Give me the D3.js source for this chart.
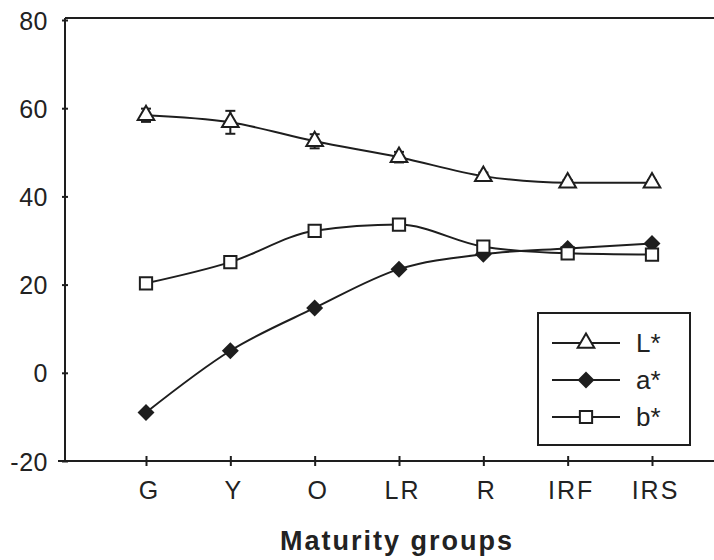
<!DOCTYPE html>
<html>
<head>
<meta charset="utf-8">
<script src="https://cdn.jsdelivr.net/npm/d3@7"></script>
<style>
  body { margin: 0; background: #fff; }
  svg text { font-family: "Liberation Sans", Arial, sans-serif; fill: #222; }
</style>
</head>
<body>
<div id="chart"></div>
<script>
var groups = ["G", "Y", "O", "LR", "R", "IRF", "IRS"];
var l_values = [58.4, 56.8, 52.5, 48.9, 44.6, 43.1, 43.1];
var l_errors = [1.5, 2.6, 1.6, 1.2, 0.8, 0.6, 0.6];
var a_values = [-9.0, 5.0, 14.7, 23.5, 26.9, 28.2, 29.3];
var b_values = [20.3, 25.1, 32.2, 33.6, 28.6, 27.1, 26.8];
var y_ticks = [-20, 0, 20, 40, 60, 80];

var width = 714, height = 560;

var svg = d3.select("#chart").append("svg")
    .attr("width", width)
    .attr("height", height);

var x_scale = d3.scalePoint()
    .domain(groups)
    .range([146, 652]);

var y_scale = d3.scaleLinear()
    .domain([-20, 80])
    .range([461, 20]);

var ink = "#1e1e1e";

// frame: top line
svg.append("line")
    .attr("x1", 65).attr("x2", width)
    .attr("y1", 18).attr("y2", 18)
    .attr("stroke", ink).attr("stroke-width", 2);

// y axis
var y_axis = svg.append("g")
    .attr("transform", "translate(65,0)")
    .call(d3.axisLeft(y_scale).tickValues(y_ticks).tickSize(4)
      .tickFormat(function(d) { return String(d); }));
y_axis.select(".domain").remove();
y_axis.append("line")
    .attr("x1", 0).attr("x2", 0)
    .attr("y1", 18).attr("y2", 462)
    .attr("stroke", ink).attr("stroke-width", 2);
y_axis.selectAll(".tick line")
    .attr("x1", -3).attr("x2", 3)
    .attr("stroke", ink).attr("stroke-width", 2);
y_axis.selectAll(".tick text")
    .attr("x", -17)
    .attr("dy", "0.36em")
    .style("font-size", "25px")
    .style("letter-spacing", "0.5px")
    .attr("fill", ink);

// x axis
var x_axis = svg.append("g")
    .attr("transform", "translate(0,461)")
    .call(d3.axisBottom(x_scale).tickSize(4));
x_axis.select(".domain").remove();
x_axis.append("line")
    .attr("x1", 58).attr("x2", width)
    .attr("y1", 0).attr("y2", 0)
    .attr("stroke", ink).attr("stroke-width", 2);
x_axis.selectAll(".tick line")
    .attr("y1", -5).attr("y2", 5)
    .attr("stroke", ink).attr("stroke-width", 2);
x_axis.selectAll(".tick text")
    .attr("y", 19)
    .attr("dy", "0.75em")
    .attr("dx", "3px")
    .style("font-size", "25px")
    .style("letter-spacing", "2px")
    .attr("fill", ink);

svg.append("text")
    .attr("x", 397)
    .attr("y", 550)
    .attr("text-anchor", "middle")
    .style("font-size", "27px")
    .style("font-weight", "bold")
    .style("letter-spacing", "2px")
    .text("Maturity groups");

var line = d3.line()
    .x(function(d, i) { return x_scale(groups[i]); })
    .y(function(d) { return y_scale(d); })
    .curve(d3.curveMonotoneX);

var series = [
  { name: "L*", values: l_values, symbol: d3.symbolTriangle, size: 120, fill: "#fff", rotate: 0 },
  { name: "a*", values: a_values, symbol: d3.symbolSquare, size: 100, fill: ink, rotate: 45 },
  { name: "b*", values: b_values, symbol: d3.symbolSquare, size: 150, fill: "#fff", rotate: 0 }
];

// error bars for L*
for (var i = 0 ; i < groups.length ; i++) {
  var ex = x_scale(groups[i]);
  var err_top = y_scale(l_values[i] + l_errors[i]);
  var err_bot = y_scale(l_values[i] - l_errors[i]);
  svg.append("line")
      .attr("x1", ex).attr("x2", ex).attr("y1", err_top).attr("y2", err_bot)
      .attr("stroke", ink).attr("stroke-width", 2);
  svg.append("line")
      .attr("x1", ex - 5).attr("x2", ex + 5).attr("y1", err_top).attr("y2", err_top)
      .attr("stroke", ink).attr("stroke-width", 2);
  svg.append("line")
      .attr("x1", ex - 5).attr("x2", ex + 5).attr("y1", err_bot).attr("y2", err_bot)
      .attr("stroke", ink).attr("stroke-width", 2);
}

series.forEach(function(s) {
  svg.append("path")
      .attr("d", line(s.values))
      .attr("fill", "none")
      .attr("stroke", ink)
      .attr("stroke-width", 2);
});

series.forEach(function(s) {
  var sym = d3.symbol().type(s.symbol).size(s.size);
  for (var i = 0 ; i < groups.length ; i++) {
    svg.append("path")
        .attr("d", sym())
        .attr("transform", "translate(" + x_scale(groups[i]) + "," + y_scale(s.values[i]) + ") rotate(" + s.rotate + ")")
        .attr("fill", s.fill)
        .attr("stroke", ink)
        .attr("stroke-width", 2);
  }
});

// legend
var legend = svg.append("g");
legend.append("rect")
    .attr("x", 538).attr("y", 313)
    .attr("width", 152).attr("height", 132)
    .attr("fill", "#fff")
    .attr("stroke", ink)
    .attr("stroke-width", 2);

series.forEach(function(s, i) {
  var ly = 343 + i * 37;
  legend.append("line")
      .attr("x1", 552).attr("x2", 620)
      .attr("y1", ly).attr("y2", ly)
      .attr("stroke", ink).attr("stroke-width", 2);
  legend.append("path")
      .attr("d", d3.symbol().type(s.symbol).size(s.size)())
      .attr("transform", "translate(586," + ly + ") rotate(" + s.rotate + ")")
      .attr("fill", s.fill)
      .attr("stroke", ink)
      .attr("stroke-width", 2);
  legend.append("text")
      .attr("x", 636)
      .attr("y", ly)
      .attr("dy", "0.36em")
      .style("font-size", "26px")
      .text(s.name);
});
</script>
</body>
</html>
